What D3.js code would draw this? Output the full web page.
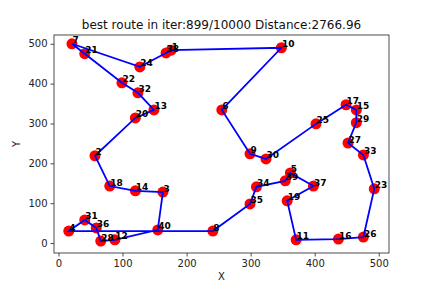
<!DOCTYPE html>
<html>
<head>
<meta charset="utf-8">
<script src="https://cdn.jsdelivr.net/npm/d3@7"></script>
<style>
  body { margin: 0; background: #fff; }
  text { font-family: "DejaVu Sans", sans-serif; }
</style>
</head>
<body>
<svg id="chart"></svg>
<script>
// city ids and coordinates
const cityIds = [1, 2, 3, 4, 5, 6, 7, 8, 9, 10, 11, 12, 13, 14, 15, 16, 17, 18, 19, 20,
  21, 22, 23, 24, 25, 26, 27, 28, 29, 30, 31, 32, 33, 34, 35, 36, 37, 38, 39, 40];
const cityX = [176, 57, 163, 16, 362, 255, 21, 241, 299, 348, 371, 88, 149, 120, 465, 437, 449, 80, 357, 120,
  41, 99, 493, 127, 402, 476, 452, 66, 465, 324, 41, 124, 476, 309, 299, 59, 398, 168, 354, 155];
const cityY = [484, 219, 128, 30, 176, 334, 500, 30, 224, 490, 8, 8, 334, 131, 334, 10, 347, 143, 106, 314,
  475, 402, 136, 442, 299, 15, 251, 5, 302, 211, 58, 377, 221, 141, 98, 38, 143, 477, 156, 33];
// best route (closed)
const route = [7, 21, 22, 32, 13, 20, 2, 18, 14, 3, 40, 12, 28, 36, 31, 4, 8, 35, 34, 39,
  5, 37, 19, 11, 16, 26, 23, 33, 27, 29, 15, 17, 25, 30, 9, 6, 10, 1, 38, 24, 7];
const xTicks = [0, 100, 200, 300, 400, 500];
const yTicks = [0, 100, 200, 300, 400, 500];
const titleText = "best route in iter:899/10000 Distance:2766.96";

const width = 432, height = 288;
const margin = { top: 35, right: 43, bottom: 35, left: 54 };

const svg = d3.select("#chart").attr("width", width).attr("height", height);

const cities = cityIds.map((id, i) => ({ id, x: cityX[i], y: cityY[i] }));
const byId = new Map(cities.map(d => [d.id, d]));

const xScale = d3.scaleLinear().domain([-7, 516]).range([margin.left, width - margin.right]);
const yScale = d3.scaleLinear().domain([-25, 522]).range([height - margin.bottom, margin.top]);

// axes
const xAxis = svg.append("g")
  .attr("transform", `translate(0,${height - margin.bottom})`)
  .call(d3.axisBottom(xScale).tickValues(xTicks).tickSize(3.5).tickPadding(3));
const yAxis = svg.append("g")
  .attr("transform", `translate(${margin.left},0)`)
  .call(d3.axisLeft(yScale).tickValues(yTicks).tickSize(3.5).tickPadding(3));
[xAxis, yAxis].forEach(g => {
  g.selectAll("text").attr("font-size", 10).attr("fill", "#222").attr("font-family", "DejaVu Sans, sans-serif");
  g.selectAll("line").attr("stroke", "#222").attr("stroke-width", 0.8);
  g.select(".domain").remove();
});

svg.append("rect")
  .attr("x", margin.left).attr("y", margin.top)
  .attr("width", width - margin.left - margin.right)
  .attr("height", height - margin.top - margin.bottom)
  .attr("fill", "none").attr("stroke", "#222").attr("stroke-width", 0.8);

// points
svg.append("g").selectAll("circle")
  .data(cities)
  .join("circle")
  .attr("cx", d => xScale(d.x))
  .attr("cy", d => yScale(d.y))
  .attr("r", 5.5)
  .attr("fill", "red");

// route line
const line = d3.line().x(d => xScale(d.x)).y(d => yScale(d.y));
svg.append("path")
  .datum(route.map(id => byId.get(id)))
  .attr("d", line)
  .attr("fill", "none")
  .attr("stroke", "blue")
  .attr("stroke-width", 1.8);

// labels
svg.append("g").selectAll("text")
  .data(cities)
  .join("text")
  .attr("x", d => xScale(d.x) + 0.5)
  .attr("y", d => yScale(d.y) - 0.5)
  .attr("font-size", 9)
  .attr("font-weight", "bold")
  .attr("fill", "#000")
  .text(d => d.id);

// title and axis labels
svg.append("text")
  .attr("x", (margin.left + width - margin.right) / 2)
  .attr("y", 29)
  .attr("text-anchor", "middle")
  .attr("font-size", 12)
  .attr("fill", "#111")
  .text(titleText);
svg.append("text")
  .attr("x", (margin.left + width - margin.right) / 2)
  .attr("y", height - 8)
  .attr("text-anchor", "middle")
  .attr("font-size", 10)
  .attr("fill", "#111")
  .text("X");
svg.append("text")
  .attr("transform", `translate(20,${(margin.top + height - margin.bottom) / 2}) rotate(-90)`)
  .attr("text-anchor", "middle")
  .attr("font-size", 10)
  .attr("fill", "#111")
  .text("Y");
</script>
</body>
</html>
